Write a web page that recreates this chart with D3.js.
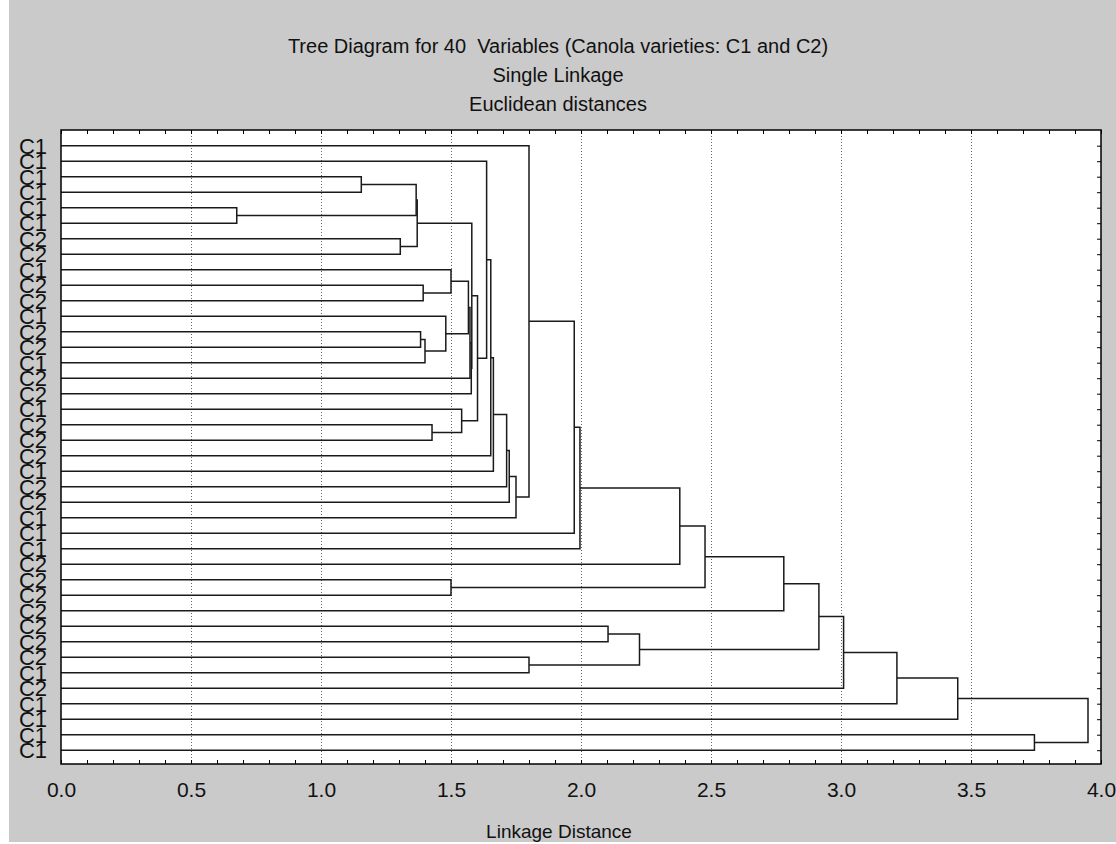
<!DOCTYPE html>
<meta charset="utf-8">
<head>
  <title>Tree Diagram for 40 Variables</title>
  <script src="https://d3js.org/d3.v7.min.js"></script>
  <style>
    body { margin: 0; background: #fff; }
    text { font-family: "Liberation Sans", Arial, sans-serif; fill: #111; }
  </style>
</head>
<body>
  <div id="my_dataviz"></div>
  <script>
    // leaf order, top to bottom
    var leafNames = [
      "C1", "C1", "C1", "C1", "C1", "C1", "C2", "C2", "C1", "C2",
      "C2", "C1", "C2", "C2", "C1", "C2", "C2", "C1", "C2", "C2",
      "C2", "C1", "C2", "C2", "C1", "C1", "C1", "C2", "C2", "C2",
      "C2", "C2", "C2", "C2", "C1", "C2", "C1", "C1", "C1", "C1"
    ];

    // merge steps: children are leaves ("L#", 1-based) or earlier steps ("N#"), with linkage distance
    var mergeLeft = ["L3", "L5", "N1", "L7", "N3", "L10", "L9", "L13", "N8", "L12",
      "N7", "N11", "N12", "N5", "L19", "L18", "N14", "L2", "N18", "N19",
      "N20", "N21", "N22", "L1", "N24", "N25", "N26", "L29", "N27", "N29",
      "L32", "L34", "N31", "N30", "N34", "N35", "N36", "L39", "N37"];
    var mergeRight = ["L4", "L6", "N2", "L8", "N4", "L11", "N6", "L14", "L15", "N9",
      "N10", "L16", "L17", "N13", "L20", "N15", "N16", "N17", "L21", "L22",
      "L23", "L24", "L25", "N23", "L26", "L27", "L28", "L30", "N28", "L31",
      "L33", "L35", "N32", "N33", "L36", "L37", "L38", "L40", "N38"];
    var mergeDist = [1.155, 0.676, 1.366, 1.305, 1.370, 1.393, 1.500, 1.383, 1.400, 1.480,
      1.567, 1.573, 1.578, 1.580, 1.427, 1.541, 1.602, 1.637, 1.653, 1.663,
      1.714, 1.724, 1.750, 1.800, 1.974, 1.996, 2.380, 1.500, 2.477, 2.780,
      2.104, 1.800, 2.225, 2.915, 3.010, 3.215, 3.449, 3.744, 3.950];

    var xTicks = [0.0, 0.5, 1.0, 1.5, 2.0, 2.5, 3.0, 3.5, 4.0];
    var titleLines = [
      "Tree Diagram for 40  Variables (Canola varieties: C1 and C2)",
      "Single Linkage",
      "Euclidean distances"
    ];

    var W = 1116, H = 844;
    var plot = { left: 61, right: 1101, top: 130, bottom: 764 };

    var svg = d3.select("#my_dataviz")
      .append("svg")
      .attr("width", W)
      .attr("height", H);

    svg.append("rect")
      .attr("x", 9).attr("y", 0)
      .attr("width", W - 9).attr("height", H - 2)
      .attr("fill", "#cacaca");

    svg.append("rect")
      .attr("x", plot.left).attr("y", plot.top)
      .attr("width", plot.right - plot.left).attr("height", plot.bottom - plot.top)
      .attr("fill", "#fff");

    var x = d3.scaleLinear()
      .domain([0, 4])
      .range([plot.left, plot.right]);

    var leafIds = leafNames.map((d, i) => "L" + (i + 1));
    var y = d3.scalePoint()
      .domain(leafIds)
      .range([145.7, 750.2]);

    // grid
    svg.append("g")
      .selectAll("line")
      .data(xTicks.filter(d => d > 0 && d < 4))
      .enter()
      .append("line")
      .attr("x1", d => Math.round(x(d)) + 0.5)
      .attr("x2", d => Math.round(x(d)) + 0.5)
      .attr("y1", plot.top)
      .attr("y2", plot.bottom)
      .attr("stroke", "#666")
      .attr("stroke-width", 1)
      .attr("stroke-dasharray", "1,2");

    // build tree positions
    var pos = {};
    leafIds.forEach(id => { pos[id] = { x: x(0), y: y(id) }; });

    var links = [];
    mergeDist.forEach((dist, i) => {
      var a = pos[mergeLeft[i]], b = pos[mergeRight[i]];
      var nx = x(dist);
      links.push("M" + a.x + "," + a.y + "H" + nx + "V" + b.y + "H" + b.x);
      pos["N" + (i + 1)] = { x: nx, y: (a.y + b.y) / 2 };
    });

    svg.append("g")
      .selectAll("path")
      .data(links)
      .enter()
      .append("path")
      .attr("d", d => d)
      .attr("fill", "none")
      .attr("stroke", "#1a1a1a")
      .attr("stroke-width", 1.5);

    // minor ticks, pointing inwards
    var minor = d3.range(0, 40.01, 1).map(d => d / 10);
    svg.append("g")
      .attr("transform", "translate(0," + plot.top + ")")
      .call(d3.axisTop(x).tickValues(minor).tickSize(-4).tickFormat(""))
      .call(g => g.select(".domain").remove());
    svg.append("g")
      .attr("transform", "translate(0," + plot.bottom + ")")
      .call(d3.axisBottom(x).tickValues(minor).tickSize(-4).tickFormat(""))
      .call(g => g.select(".domain").remove());
    svg.append("g")
      .attr("transform", "translate(" + plot.right + ",0)")
      .call(d3.axisRight(y).tickSize(-4).tickFormat(""))
      .call(g => g.select(".domain").remove());

    // x tick labels
    svg.append("g")
      .attr("transform", "translate(0," + plot.bottom + ")")
      .call(d3.axisBottom(x).tickValues(xTicks).tickSize(0).tickPadding(18).tickFormat(d3.format(".1f")))
      .call(g => g.select(".domain").remove())
      .selectAll("text")
      .style("font-size", "21px")
      .attr("fill", "#111");

    // frame
    svg.append("rect")
      .attr("x", plot.left).attr("y", plot.top)
      .attr("width", plot.right - plot.left).attr("height", plot.bottom - plot.top)
      .attr("fill", "none")
      .attr("stroke", "#000")
      .attr("stroke-width", 1.5);

    // leaf labels
    svg.append("g")
      .selectAll("text")
      .data(leafIds)
      .enter()
      .append("text")
      .attr("x", 47)
      .attr("y", d => y(d))
      .attr("dy", "0.36em")
      .attr("text-anchor", "end")
      .style("font-size", "22px")
      .text((d, i) => leafNames[i]);

    // titles
    svg.append("g")
      .selectAll("text")
      .data(titleLines)
      .enter()
      .append("text")
      .attr("x", 558)
      .attr("y", (d, i) => 53 + i * 29)
      .attr("text-anchor", "middle")
      .style("font-size", "20px")
      .style("white-space", "pre")
      .text(d => d);

    svg.append("text")
      .attr("x", 559)
      .attr("y", 838)
      .attr("text-anchor", "middle")
      .style("font-size", "19px")
      .text("Linkage Distance");
  </script>
</body>
</html>
